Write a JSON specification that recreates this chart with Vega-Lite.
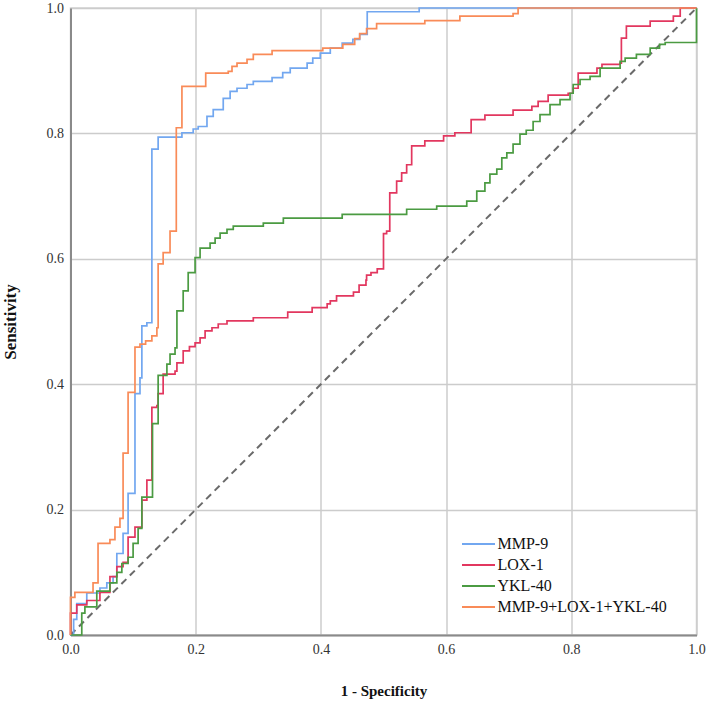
{
  "$schema": "https://vega.github.io/schema/vega-lite/v6.json",
  "width": 626,
  "height": 627,
  "autosize": "none",
  "padding": {"left": 70.5, "top": 8, "right": 12.5, "bottom": 70},
  "background": "white",
  "config": {
    "view": {"stroke": "#d3d3d3", "strokeWidth": 1.5},
    "axis": {
      "grid": true, "gridColor": "#cccccc", "gridWidth": 1.5,
      "domainColor": "#8a8a8a", "domainWidth": 2, "ticks": false,
      "labelFont": "Liberation Serif", "labelFontSize": 14, "labelColor": "#333333",
      "labelFlush": false, "labelOverlap": false,
      "titleFont": "Liberation Serif", "titleFontWeight": "bold", "titleFontSize": 15, "titleColor": "#111111"
    }
  },
  "datasets": {
    "roc": [
      {"m": "MMP-9", "x": 0, "y": 0}, {"m": "MMP-9", "x": 0.005, "y": 0.025}, {"m": "MMP-9", "x": 0.01, "y": 0.05},
      {"m": "MMP-9", "x": 0.026, "y": 0.067}, {"m": "MMP-9", "x": 0.047, "y": 0.075}, {"m": "MMP-9", "x": 0.058, "y": 0.083},
      {"m": "MMP-9", "x": 0.068, "y": 0.093}, {"m": "MMP-9", "x": 0.074, "y": 0.13}, {"m": "MMP-9", "x": 0.084, "y": 0.162},
      {"m": "MMP-9", "x": 0.092, "y": 0.226}, {"m": "MMP-9", "x": 0.103, "y": 0.385}, {"m": "MMP-9", "x": 0.111, "y": 0.41},
      {"m": "MMP-9", "x": 0.114, "y": 0.493}, {"m": "MMP-9", "x": 0.122, "y": 0.498}, {"m": "MMP-9", "x": 0.13, "y": 0.775},
      {"m": "MMP-9", "x": 0.14, "y": 0.794}, {"m": "MMP-9", "x": 0.178, "y": 0.801}, {"m": "MMP-9", "x": 0.196, "y": 0.807},
      {"m": "MMP-9", "x": 0.204, "y": 0.811}, {"m": "MMP-9", "x": 0.218, "y": 0.827}, {"m": "MMP-9", "x": 0.228, "y": 0.838},
      {"m": "MMP-9", "x": 0.244, "y": 0.856}, {"m": "MMP-9", "x": 0.255, "y": 0.867}, {"m": "MMP-9", "x": 0.266, "y": 0.872},
      {"m": "MMP-9", "x": 0.282, "y": 0.878}, {"m": "MMP-9", "x": 0.292, "y": 0.883}, {"m": "MMP-9", "x": 0.322, "y": 0.889},
      {"m": "MMP-9", "x": 0.339, "y": 0.897}, {"m": "MMP-9", "x": 0.351, "y": 0.904}, {"m": "MMP-9", "x": 0.378, "y": 0.912},
      {"m": "MMP-9", "x": 0.387, "y": 0.92}, {"m": "MMP-9", "x": 0.399, "y": 0.928}, {"m": "MMP-9", "x": 0.415, "y": 0.936},
      {"m": "MMP-9", "x": 0.434, "y": 0.944}, {"m": "MMP-9", "x": 0.451, "y": 0.95}, {"m": "MMP-9", "x": 0.462, "y": 0.958},
      {"m": "MMP-9", "x": 0.474, "y": 0.994}, {"m": "MMP-9", "x": 0.557, "y": 1.0}, {"m": "MMP-9", "x": 1.0, "y": 1.0},

      {"m": "LOX-1", "x": 0, "y": 0}, {"m": "LOX-1", "x": 0, "y": 0.035}, {"m": "LOX-1", "x": 0.01, "y": 0.048},
      {"m": "LOX-1", "x": 0.026, "y": 0.055}, {"m": "LOX-1", "x": 0.047, "y": 0.068}, {"m": "LOX-1", "x": 0.063, "y": 0.093},
      {"m": "LOX-1", "x": 0.074, "y": 0.109}, {"m": "LOX-1", "x": 0.084, "y": 0.116}, {"m": "LOX-1", "x": 0.092, "y": 0.156},
      {"m": "LOX-1", "x": 0.103, "y": 0.172}, {"m": "LOX-1", "x": 0.114, "y": 0.215}, {"m": "LOX-1", "x": 0.122, "y": 0.247},
      {"m": "LOX-1", "x": 0.13, "y": 0.363}, {"m": "LOX-1", "x": 0.138, "y": 0.366}, {"m": "LOX-1", "x": 0.14, "y": 0.385},
      {"m": "LOX-1", "x": 0.148, "y": 0.416}, {"m": "LOX-1", "x": 0.167, "y": 0.421}, {"m": "LOX-1", "x": 0.17, "y": 0.434},
      {"m": "LOX-1", "x": 0.18, "y": 0.453}, {"m": "LOX-1", "x": 0.19, "y": 0.46}, {"m": "LOX-1", "x": 0.199, "y": 0.466},
      {"m": "LOX-1", "x": 0.207, "y": 0.474}, {"m": "LOX-1", "x": 0.215, "y": 0.485}, {"m": "LOX-1", "x": 0.226, "y": 0.49},
      {"m": "LOX-1", "x": 0.236, "y": 0.496}, {"m": "LOX-1", "x": 0.25, "y": 0.501}, {"m": "LOX-1", "x": 0.292, "y": 0.506},
      {"m": "LOX-1", "x": 0.347, "y": 0.515}, {"m": "LOX-1", "x": 0.386, "y": 0.522}, {"m": "LOX-1", "x": 0.41, "y": 0.528},
      {"m": "LOX-1", "x": 0.415, "y": 0.533}, {"m": "LOX-1", "x": 0.425, "y": 0.541}, {"m": "LOX-1", "x": 0.452, "y": 0.547},
      {"m": "LOX-1", "x": 0.461, "y": 0.558}, {"m": "LOX-1", "x": 0.472, "y": 0.566}, {"m": "LOX-1", "x": 0.473, "y": 0.574},
      {"m": "LOX-1", "x": 0.48, "y": 0.578}, {"m": "LOX-1", "x": 0.49, "y": 0.584}, {"m": "LOX-1", "x": 0.5, "y": 0.64},
      {"m": "LOX-1", "x": 0.505, "y": 0.644}, {"m": "LOX-1", "x": 0.51, "y": 0.705}, {"m": "LOX-1", "x": 0.521, "y": 0.724},
      {"m": "LOX-1", "x": 0.529, "y": 0.737}, {"m": "LOX-1", "x": 0.537, "y": 0.75}, {"m": "LOX-1", "x": 0.545, "y": 0.78},
      {"m": "LOX-1", "x": 0.566, "y": 0.788}, {"m": "LOX-1", "x": 0.596, "y": 0.796}, {"m": "LOX-1", "x": 0.614, "y": 0.801},
      {"m": "LOX-1", "x": 0.64, "y": 0.822}, {"m": "LOX-1", "x": 0.662, "y": 0.829}, {"m": "LOX-1", "x": 0.707, "y": 0.837},
      {"m": "LOX-1", "x": 0.737, "y": 0.843}, {"m": "LOX-1", "x": 0.747, "y": 0.851}, {"m": "LOX-1", "x": 0.763, "y": 0.861},
      {"m": "LOX-1", "x": 0.795, "y": 0.864}, {"m": "LOX-1", "x": 0.803, "y": 0.872}, {"m": "LOX-1", "x": 0.811, "y": 0.896},
      {"m": "LOX-1", "x": 0.841, "y": 0.904}, {"m": "LOX-1", "x": 0.849, "y": 0.91}, {"m": "LOX-1", "x": 0.878, "y": 0.912},
      {"m": "LOX-1", "x": 0.88, "y": 0.952}, {"m": "LOX-1", "x": 0.888, "y": 0.971}, {"m": "LOX-1", "x": 0.926, "y": 0.979},
      {"m": "LOX-1", "x": 0.963, "y": 0.987}, {"m": "LOX-1", "x": 0.974, "y": 1.0}, {"m": "LOX-1", "x": 1.0, "y": 1.0},

      {"m": "YKL-40", "x": 0, "y": 0}, {"m": "YKL-40", "x": 0.018, "y": 0.035}, {"m": "YKL-40", "x": 0.023, "y": 0.045},
      {"m": "YKL-40", "x": 0.042, "y": 0.07}, {"m": "YKL-40", "x": 0.063, "y": 0.083}, {"m": "YKL-40", "x": 0.074, "y": 0.1},
      {"m": "YKL-40", "x": 0.082, "y": 0.114}, {"m": "YKL-40", "x": 0.092, "y": 0.124}, {"m": "YKL-40", "x": 0.1, "y": 0.146},
      {"m": "YKL-40", "x": 0.108, "y": 0.17}, {"m": "YKL-40", "x": 0.114, "y": 0.22}, {"m": "YKL-40", "x": 0.131, "y": 0.337},
      {"m": "YKL-40", "x": 0.14, "y": 0.414}, {"m": "YKL-40", "x": 0.154, "y": 0.432}, {"m": "YKL-40", "x": 0.159, "y": 0.448},
      {"m": "YKL-40", "x": 0.167, "y": 0.458}, {"m": "YKL-40", "x": 0.17, "y": 0.517}, {"m": "YKL-40", "x": 0.18, "y": 0.549},
      {"m": "YKL-40", "x": 0.188, "y": 0.578}, {"m": "YKL-40", "x": 0.199, "y": 0.602}, {"m": "YKL-40", "x": 0.207, "y": 0.617},
      {"m": "YKL-40", "x": 0.223, "y": 0.625}, {"m": "YKL-40", "x": 0.231, "y": 0.633}, {"m": "YKL-40", "x": 0.239, "y": 0.641},
      {"m": "YKL-40", "x": 0.25, "y": 0.647}, {"m": "YKL-40", "x": 0.26, "y": 0.652}, {"m": "YKL-40", "x": 0.308, "y": 0.657},
      {"m": "YKL-40", "x": 0.34, "y": 0.665}, {"m": "YKL-40", "x": 0.434, "y": 0.671}, {"m": "YKL-40", "x": 0.537, "y": 0.679},
      {"m": "YKL-40", "x": 0.585, "y": 0.684}, {"m": "YKL-40", "x": 0.633, "y": 0.692}, {"m": "YKL-40", "x": 0.649, "y": 0.708},
      {"m": "YKL-40", "x": 0.662, "y": 0.721}, {"m": "YKL-40", "x": 0.67, "y": 0.735}, {"m": "YKL-40", "x": 0.681, "y": 0.743},
      {"m": "YKL-40", "x": 0.689, "y": 0.761}, {"m": "YKL-40", "x": 0.697, "y": 0.769}, {"m": "YKL-40", "x": 0.707, "y": 0.783},
      {"m": "YKL-40", "x": 0.718, "y": 0.799}, {"m": "YKL-40", "x": 0.728, "y": 0.805}, {"m": "YKL-40", "x": 0.739, "y": 0.819},
      {"m": "YKL-40", "x": 0.75, "y": 0.83}, {"m": "YKL-40", "x": 0.766, "y": 0.846}, {"m": "YKL-40", "x": 0.782, "y": 0.854},
      {"m": "YKL-40", "x": 0.798, "y": 0.864}, {"m": "YKL-40", "x": 0.803, "y": 0.878}, {"m": "YKL-40", "x": 0.814, "y": 0.886},
      {"m": "YKL-40", "x": 0.83, "y": 0.891}, {"m": "YKL-40", "x": 0.846, "y": 0.904}, {"m": "YKL-40", "x": 0.878, "y": 0.915},
      {"m": "YKL-40", "x": 0.886, "y": 0.92}, {"m": "YKL-40", "x": 0.904, "y": 0.926}, {"m": "YKL-40", "x": 0.926, "y": 0.936},
      {"m": "YKL-40", "x": 0.941, "y": 0.942}, {"m": "YKL-40", "x": 0.95, "y": 0.945}, {"m": "YKL-40", "x": 1.0, "y": 1.0},

      {"m": "MMP-9+LOX-1+YKL-40", "x": 0, "y": 0}, {"m": "MMP-9+LOX-1+YKL-40", "x": 0, "y": 0.06},
      {"m": "MMP-9+LOX-1+YKL-40", "x": 0.007, "y": 0.068}, {"m": "MMP-9+LOX-1+YKL-40", "x": 0.036, "y": 0.083},
      {"m": "MMP-9+LOX-1+YKL-40", "x": 0.044, "y": 0.146}, {"m": "MMP-9+LOX-1+YKL-40", "x": 0.063, "y": 0.152},
      {"m": "MMP-9+LOX-1+YKL-40", "x": 0.071, "y": 0.172}, {"m": "MMP-9+LOX-1+YKL-40", "x": 0.079, "y": 0.186},
      {"m": "MMP-9+LOX-1+YKL-40", "x": 0.084, "y": 0.29}, {"m": "MMP-9+LOX-1+YKL-40", "x": 0.092, "y": 0.387},
      {"m": "MMP-9+LOX-1+YKL-40", "x": 0.103, "y": 0.459}, {"m": "MMP-9+LOX-1+YKL-40", "x": 0.111, "y": 0.464},
      {"m": "MMP-9+LOX-1+YKL-40", "x": 0.12, "y": 0.469}, {"m": "MMP-9+LOX-1+YKL-40", "x": 0.13, "y": 0.477},
      {"m": "MMP-9+LOX-1+YKL-40", "x": 0.138, "y": 0.49}, {"m": "MMP-9+LOX-1+YKL-40", "x": 0.14, "y": 0.592},
      {"m": "MMP-9+LOX-1+YKL-40", "x": 0.148, "y": 0.61}, {"m": "MMP-9+LOX-1+YKL-40", "x": 0.159, "y": 0.644},
      {"m": "MMP-9+LOX-1+YKL-40", "x": 0.169, "y": 0.809}, {"m": "MMP-9+LOX-1+YKL-40", "x": 0.178, "y": 0.875},
      {"m": "MMP-9+LOX-1+YKL-40", "x": 0.216, "y": 0.896}, {"m": "MMP-9+LOX-1+YKL-40", "x": 0.252, "y": 0.899},
      {"m": "MMP-9+LOX-1+YKL-40", "x": 0.258, "y": 0.907}, {"m": "MMP-9+LOX-1+YKL-40", "x": 0.266, "y": 0.912},
      {"m": "MMP-9+LOX-1+YKL-40", "x": 0.282, "y": 0.918}, {"m": "MMP-9+LOX-1+YKL-40", "x": 0.292, "y": 0.926},
      {"m": "MMP-9+LOX-1+YKL-40", "x": 0.322, "y": 0.932}, {"m": "MMP-9+LOX-1+YKL-40", "x": 0.403, "y": 0.936},
      {"m": "MMP-9+LOX-1+YKL-40", "x": 0.435, "y": 0.942}, {"m": "MMP-9+LOX-1+YKL-40", "x": 0.454, "y": 0.951},
      {"m": "MMP-9+LOX-1+YKL-40", "x": 0.462, "y": 0.959}, {"m": "MMP-9+LOX-1+YKL-40", "x": 0.473, "y": 0.967},
      {"m": "MMP-9+LOX-1+YKL-40", "x": 0.489, "y": 0.975}, {"m": "MMP-9+LOX-1+YKL-40", "x": 0.566, "y": 0.98},
      {"m": "MMP-9+LOX-1+YKL-40", "x": 0.622, "y": 0.987}, {"m": "MMP-9+LOX-1+YKL-40", "x": 0.707, "y": 0.991},
      {"m": "MMP-9+LOX-1+YKL-40", "x": 0.715, "y": 1.0}, {"m": "MMP-9+LOX-1+YKL-40", "x": 1.0, "y": 1.0}
    ],
    "diag": [{"x": 0, "y": 0}, {"x": 1, "y": 1}]
  },
  "layer": [
    {
      "data": {"name": "diag"},
      "mark": {"type": "line", "color": "#6a6a6a", "strokeWidth": 2, "strokeDash": [7, 5]},
      "encoding": {
        "x": {"field": "x", "type": "quantitative"},
        "y": {"field": "y", "type": "quantitative"}
      }
    },
    {
      "data": {"name": "roc"},
      "mark": {"type": "line", "interpolate": "step-after", "strokeWidth": 1.7},
      "encoding": {
        "x": {"field": "x", "type": "quantitative", "scale": {"domain": [0, 1], "nice": false},
              "axis": {"values": [0, 0.2, 0.4, 0.6, 0.8, 1], "format": ".1f", "title": "1 - Specificity", "labelPadding": 7, "titlePadding": 27}},
        "y": {"field": "y", "type": "quantitative", "scale": {"domain": [0, 1], "nice": false},
              "axis": {"values": [0, 0.2, 0.4, 0.6, 0.8, 1], "format": ".1f", "title": "Sensitivity", "labelPadding": 7, "titlePadding": 27, "titleFontSize": 17}},
        "color": {"field": "m", "type": "nominal",
          "scale": {"domain": ["MMP-9", "LOX-1", "YKL-40", "MMP-9+LOX-1+YKL-40"], "range": ["#72a7f0", "#e2375f", "#4b9b42", "#f98b58"]},
          "legend": {"orient": "none", "legendX": 400, "legendY": 528, "title": null, "padding": 0,
            "symbolType": "M-3,0H3", "symbolSize": 121, "symbolStrokeWidth": 2, "symbolFillColor": "transparent",
            "labelFont": "Liberation Serif", "labelFontSize": 16, "labelColor": "#111111", "labelOffset": 11, "labelLimit": 400, "rowPadding": 5}},
        "order": {"value": null}
      }
    }
  ]
}
